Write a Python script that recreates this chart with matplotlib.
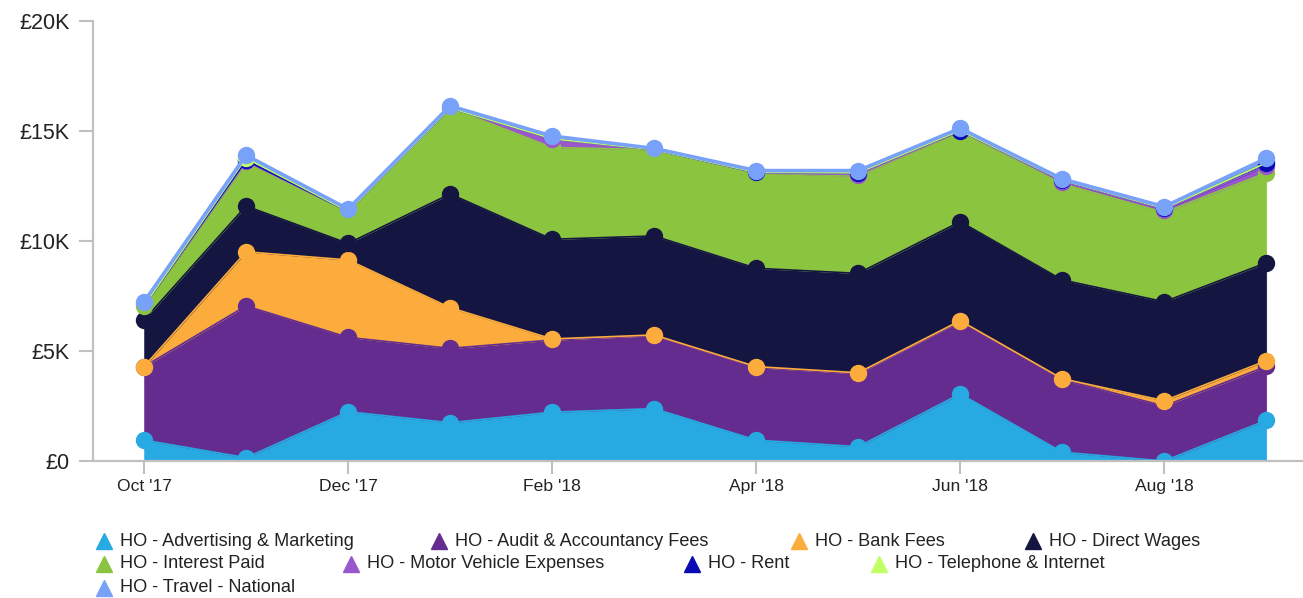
import matplotlib
matplotlib.use("Agg")
import matplotlib.pyplot as plt
import matplotlib.ticker as mticker
from matplotlib.lines import Line2D
import numpy as np

plt.rcParams['font.family'] = ['Liberation Sans', 'DejaVu Sans']

# Data (GBP per month)
months = ["Oct '17", "Nov '17", "Dec '17", "Jan '18", "Feb '18", "Mar '18",
          "Apr '18", "May '18", "Jun '18", "Jul '18", "Aug '18", "Sep '18"]

names = ["HO - Advertising & Marketing", "HO - Audit & Accountancy Fees",
         "HO - Bank Fees", "HO - Direct Wages", "HO - Interest Paid",
         "HO - Motor Vehicle Expenses", "HO - Rent",
         "HO - Telephone & Internet", "HO - Travel - National"]

advertising = [950, 150, 2240, 1740, 2220, 2380, 950, 650, 3050, 400, 0, 1850]
audit = [3340, 6900, 3380, 3380, 3280, 3320, 3300, 3320, 3300, 3300, 2500, 2450]
bank_fees = [0, 2460, 3520, 1850, 50, 30, 40, 40, 30, 40, 240, 260]
direct_wages = [2120, 2080, 750, 5170, 4530, 4500, 4470, 4520, 4500, 4490, 4500, 4450]
interest = [640, 1960, 1460, 3910, 4170, 3920, 4340, 4420, 4120, 4370, 4060, 4090]
motor = [0, 70, 0, 0, 400, 0, 0, 70, 0, 100, 120, 320]
rent = [0, 50, 0, 0, 0, 0, 20, 80, 20, 60, 60, 130]
telephone = [0, 100, 0, 0, 0, 0, 0, 0, 0, 0, 0, 0]
travel = [180, 130, 100, 90, 120, 60, 80, 100, 100, 60, 80, 210]

series = [advertising, audit, bank_fees, direct_wages, interest,
          motor, rent, telephone, travel]
colors = ["#27aae1", "#642c8f", "#fbac3d", "#141541", "#8bc53f",
          "#9a57cd", "#0b0bb5", "#c1ff66", "#78a1f9"]
# the small series have no entry in months where they are empty
sparse = [False, False, False, False, False, True, True, True, False]

W, H = 1303, 598
fig = plt.figure(figsize=(W / 100, H / 100), dpi=100)
ax = fig.add_axes([93 / W, 137 / H, 1210 / W, 440 / H])

x = np.arange(len(months))
cum = np.cumsum(np.array(series, dtype=float), axis=0)

bottom = np.zeros(len(months))
for i, c in enumerate(colors):
    ax.fill_between(x, bottom, cum[i], color=c, lw=0.4, ec=c, zorder=1)
    bottom = cum[i]

for i, c in enumerate(colors):
    lw = 2.6 if i == len(colors) - 1 else 1.2
    if sparse[i]:
        every = [k for k, v in enumerate(series[i]) if v > 0]
    else:
        every = None
    ax.plot(x, cum[i], color=c, lw=lw, marker='o', ms=11.5, mec=c,
            markevery=every, zorder=2 + i * 0.1)

ax.set_xlim(-0.5, 11.36)
ax.set_ylim(0, 20000)

ax.set_xticks(x[::2])
ax.set_xticklabels(months[::2])
ax.set_yticks([0, 5000, 10000, 15000, 20000])
ax.yaxis.set_major_formatter(mticker.FuncFormatter(
    lambda v, p: "£0" if v == 0 else f"£{v / 1000:.0f}K"))

for s in ['top', 'right']:
    ax.spines[s].set_visible(False)
for s in ['left', 'bottom']:
    ax.spines[s].set_color('#c0c0c0')
    ax.spines[s].set_linewidth(1.6)
    ax.spines[s].set_zorder(5)

ax.tick_params(axis='y', length=10, width=1.5, color='#c0c0c0',
               labelsize=15.5, labelcolor='#222222', pad=7)
ax.tick_params(axis='x', length=9, width=1.5, color='#c0c0c0',
               labelsize=12.6, labelcolor='#222222', pad=4)

# legend (flowing rows like the original)
legend_pos = [(104, 540), (439, 540), (799, 540), (1033, 540),
              (104, 563), (351, 563), (692, 563), (879, 563),
              (104, 587)]
for (px, py), name, c in zip(legend_pos, names, colors):
    fig.add_artist(Line2D([px / W], [1 - (py + 1) / H], marker='^',
                          ms=11, color=c, mec=c, ls='none',
                          transform=fig.transFigure))
    fig.text((px + 16) / W, 1 - (py + 1) / H, name, fontsize=13.1,
             color='#222222', va='center', ha='left')

fig.savefig("out.png", dpi=100)
